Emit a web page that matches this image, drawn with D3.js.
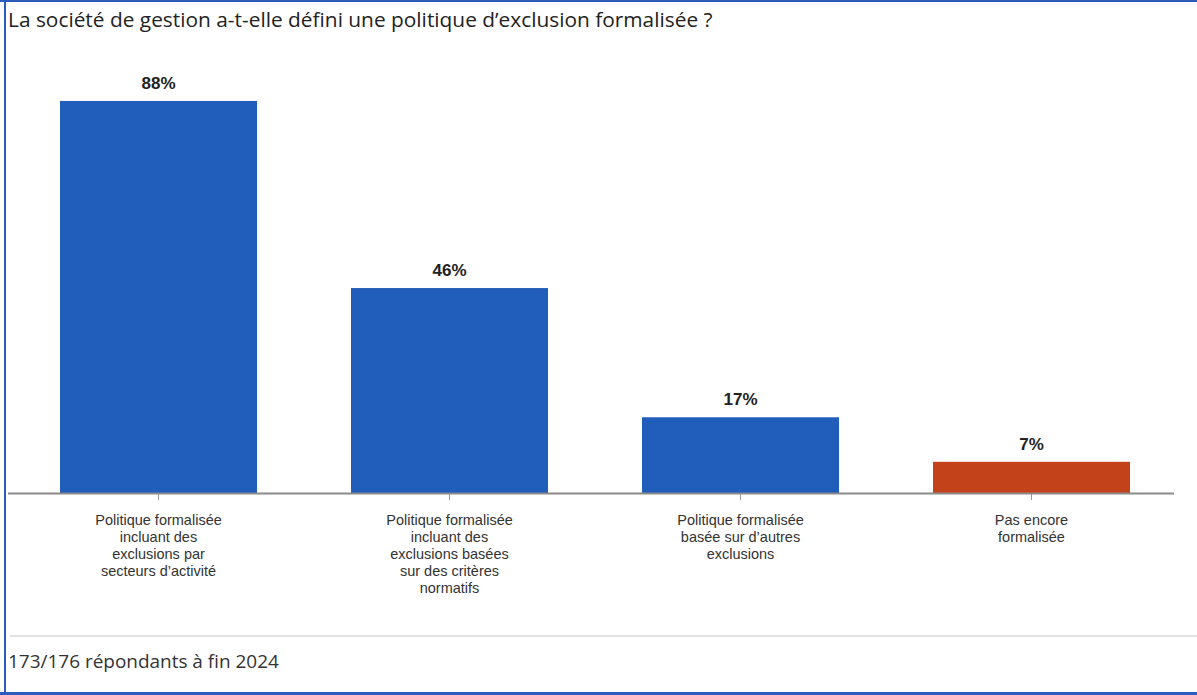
<!DOCTYPE html>
<html><head><meta charset="utf-8">
<script src="https://cdn.jsdelivr.net/npm/d3@7"></script>
<style>
html,body{margin:0;padding:0;background:#fff;}
svg{display:block;}
</style></head>
<body>
<script>
const title = "La société de gestion a-t-elle défini une politique d\u2019exclusion formalisée ?";
const footer = "173/176 répondants à fin 2024";
const categories = [
  ["Politique formalisée","incluant des","exclusions par","secteurs d\u2019activité"],
  ["Politique formalisée","incluant des","exclusions basées","sur des critères","normatifs"],
  ["Politique formalisée","basée sur d\u2019autres","exclusions"],
  ["Pas encore","formalisée"]
];
const values = [88, 46, 17, 7];
const valueLabels = ["88%", "46%", "17%", "7%"];
const colors = ["#215dbb", "#215dbb", "#215dbb", "#c4421a"];

const W = 1197, H = 695;
const svg = d3.select("body").append("svg").attr("width", W).attr("height", H);

// frame
svg.append("rect").attr("x",0).attr("y",0).attr("width",W).attr("height",2).attr("fill","#2a5bbd");
svg.append("rect").attr("x",4).attr("y",0).attr("width",2).attr("height",H).attr("fill","#2a5bbd");
svg.append("rect").attr("x",0).attr("y",692).attr("width",W).attr("height",3).attr("fill","#2a5bbd");

function fit(sel, target){
  const w = sel.node().getComputedTextLength();
  const fs = parseFloat(sel.attr("font-size"));
  sel.attr("font-size", fs * target / w);
}

const t = svg.append("text").attr("x",8).attr("y",27)
  .attr("font-family","'Open Sans', 'Noto Sans', sans-serif").attr("font-size",16)
  .attr("fill","#222").text(title);
fit(t, 705);

const idx = d3.range(values.length);
const x = d3.scaleBand().domain(idx).range([13, 1177]).paddingInner(0.323).paddingOuter(0.1615);
const y = d3.scaleLinear().domain([0, 100]).range([493, 47.5]);

svg.selectAll("rect.bar").data(idx).join("rect").attr("class","bar")
  .attr("x", i => x(i)).attr("width", x.bandwidth())
  .attr("y", i => y(values[i])).attr("height", i => y(0) - y(values[i]))
  .attr("fill", i => colors[i]);

svg.selectAll("text.val").data(idx).join("text").attr("class","val")
  .attr("x", i => x(i) + x.bandwidth()/2).attr("y", i => y(values[i]) - 12)
  .attr("text-anchor","middle").attr("font-family","'Liberation Sans', Arial, sans-serif")
  .attr("font-weight","bold").attr("font-size",17).attr("fill","#222")
  .text(i => valueLabels[i]);

// axis
const axis = d3.axisBottom(x).tickSize(7).tickFormat("");
const gA = svg.append("g").attr("transform","translate(0,493)").call(axis);
gA.select(".domain").remove();
gA.selectAll(".tick line").attr("stroke","#999").attr("stroke-width",1);
svg.append("line").attr("x1",8).attr("x2",1174).attr("y1",493.5).attr("y2",493.5)
  .attr("stroke","#8a8a8a").attr("stroke-width",2);

const lab = svg.selectAll("text.cat").data(idx).join("text").attr("class","cat")
  .attr("text-anchor","middle").attr("font-family","'Liberation Sans', Arial, sans-serif")
  .attr("font-size",14.5).attr("fill","#333");
lab.each(function(i){
  d3.select(this).selectAll("tspan").data(categories[i]).join("tspan")
    .attr("x", x(i) + x.bandwidth()/2).attr("y", (d,j) => 525 + j*17).text(d => d);
});

svg.append("line").attr("x1",10).attr("x2",W).attr("y1",636).attr("y2",636)
  .attr("stroke","#e2e2e2").attr("stroke-width",2);
const f = svg.append("text").attr("x",8).attr("y",668)
  .attr("font-family","'Open Sans', 'Noto Sans', sans-serif").attr("font-size",16)
  .attr("fill","#333").text(footer);
fit(f, 271);
</script>
</body></html>
